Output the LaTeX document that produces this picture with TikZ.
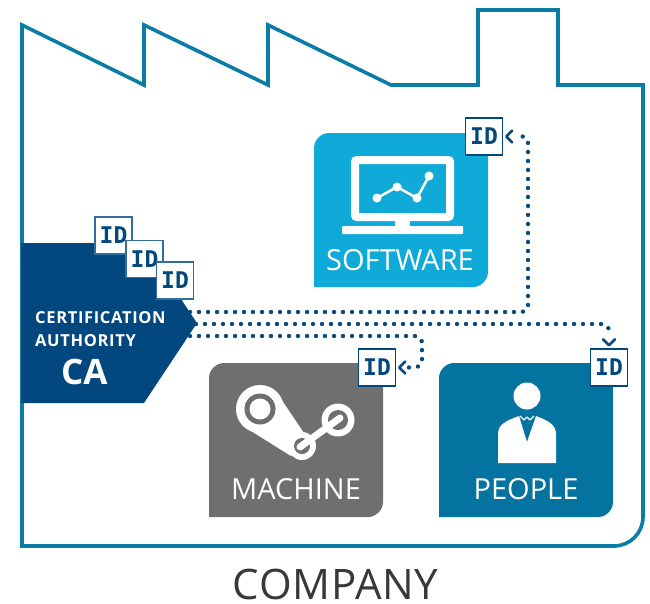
\documentclass[tikz,border=0pt]{standalone}
\usepackage{fontspec}
\setmainfont{Open Sans}
\newfontfamily\idfont{DejaVu Sans Mono}
\usetikzlibrary{arrows.meta}
\definecolor{frameblue}{HTML}{0B7CA6}
\definecolor{cablue}{HTML}{03477F}
\definecolor{softblue}{HTML}{0FAAD8}
\definecolor{peopleblue}{HTML}{04739F}
\definecolor{machgray}{HTML}{6F6F6F}
\definecolor{dotblue}{HTML}{0C4A7E}
\definecolor{idedge}{HTML}{2F6E9E}
\tikzset{
  x=1pt,y=-1pt,
  idbox/.style={draw=cablue,line width=1.6pt,fill=white,minimum width=37pt,minimum height=37pt,inner sep=0pt,text=cablue,font=\fontsize{23}{23}\idfont\bfseries},
  linkdots/.style={draw=dotblue,line width=4.4pt,line cap=round,dash pattern=on 0pt off 9pt},
  chevron/.style={draw=dotblue,line width=2.6pt,line cap=round,line join=round},
  paneltext/.style={text=white,font=\fontsize{29}{29}\selectfont,inner sep=0pt,anchor=base},
  catext/.style={text=white,font=\fontsize{16.5}{17}\selectfont\bfseries\addfontfeatures{LetterSpace=4},inner sep=0pt,anchor=base west},
}
\newcommand{\panelshape}[5]{% color, x0, y0, x1, y1
  \fill[#1] (#4,#3) -- (#4,#5-15) .. controls (#4,#5-7) and (#4-7,#5) .. (#4-15,#5) -- (#2,#5) -- (#2,#3+15) .. controls (#2,#3+7) and (#2+7,#3) .. (#2+15,#3) -- cycle;}
\begin{document}
\begin{tikzpicture}
\useasboundingbox (0,0) rectangle (650,603);
\fill[white] (0,0) rectangle (650,603);
% factory outline
\draw[frameblue,line width=3.6pt,line join=miter]
  (22,25) -- (144,85) -- (144,25) -- (268,85) -- (268,25) -- (391,85) -- (478,85)
  -- (478,10) -- (558,10) -- (558,85) -- (643,85) -- (643,517)
  .. controls (643,533) and (630,546) .. (614,546) -- (22,546) -- cycle;
% panels
\panelshape{softblue}{314}{133}{488}{287}
\panelshape{machgray}{209}{363}{383}{517}
\panelshape{peopleblue}{439}{363}{613}{517}
\node[paneltext] (softlabel) at (400,270) {SOFTWARE};
\node[paneltext] (machlabel) at (296,499) {MACHINE};
\node[paneltext] (peoplelabel) at (526,499) {PEOPLE};
% laptop
\draw[white,line width=8pt,rounded corners=2pt] (355,160) rectangle (450,217);
\fill[white,rounded corners=1pt] (342,226) rectangle (463,234);
\fill[white] (395,219) rectangle (410,226);
\draw[white,line width=2.5pt] (377,198) -- (397,187) -- (417,198) -- (429,176);
\foreach \p in {(377,198),(397,187),(417,198),(429,176)} \fill[white] \p circle[radius=4.5];
% steam icon
\fill[white] (277,393) -- (306,436) -- (291,456) -- (243,426) -- cycle;
\fill[white] (260,409) circle[radius=24];
\fill[machgray] (260,409) circle[radius=15.5];
\fill[white] (260,409) circle[radius=10.5];
\fill[white] (302,446) circle[radius=14];
\fill[machgray] (302,446) circle[radius=8];
\fill[white] (338,420) circle[radius=16.5];
\fill[machgray] (338,420) circle[radius=10];
\draw[white,line width=7pt,line cap=round] (300,447) -- (340,418);
% person
\fill[white] (527,396) circle[radius=13.5];
\fill[white] (498,463) -- (498,434) .. controls (498,425) and (505,421) .. (519,416) -- (527,442) -- (536,416) .. controls (549,421) and (556,425) .. (556,434) -- (556,463) -- cycle;
\draw[white,line width=1.3pt,line join=round] (520,416) -- (524,420) -- (527,417) -- (530,420) -- (534,416);
% CA
\fill[cablue] (21,243) -- (110,243) -- (140,260) -- (170,280) -- (183,302) -- (197,323) -- (144,403) -- (21,403) -- cycle;
\node[catext] (catextone) at (35,323) {CERTIFICATION};
\node[catext] (catexttwo) at (35,346) {AUTHORITY};
\node[catext,font=\fontsize{35}{35}\selectfont\bfseries] (cacode) at (61,384) {CA};
% connector ends
\coordinate (startone) at (190,312);
\coordinate (starttwo) at (196,324);
\coordinate (startthree) at (190,336);
% ID boxes
\node[idbox,draw=idedge] (idcaone) at (113.5,235.5) {ID};
\node[idbox,draw=idedge] (idcatwo) at (144.5,259) {ID};
\node[idbox,draw=idedge] (idcathree) at (175,280.5) {ID};
\node[idbox] (idsoft) at (484,136.5) {ID};
\node[idbox] (idmach) at (377,367.5) {ID};
\node[idbox] (idpeople) at (609,367.5) {ID};
% dotted links
\draw[linkdots,rounded corners=7pt] (startone) -- (528,312) -- (528,136) -- ([xshift=11pt]idsoft.east);
\draw[linkdots,rounded corners=7pt] (starttwo) -- (609,324) -- ([yshift=13pt]idpeople.north);
\draw[linkdots,rounded corners=7pt] (startthree) -- (422,336) -- (422,367) -- ([xshift=11pt]idmach.east);
\draw[chevron] ([xshift=9pt,yshift=-6pt]idsoft.east) -- ([xshift=3pt]idsoft.east) -- ([xshift=9pt,yshift=6pt]idsoft.east);
\draw[chevron] ([xshift=9pt,yshift=-6pt]idmach.east) -- ([xshift=3pt]idmach.east) -- ([xshift=9pt,yshift=6pt]idmach.east);
\draw[chevron] ([xshift=-6pt,yshift=9pt]idpeople.north) -- ([yshift=3pt]idpeople.north) -- ([xshift=6pt,yshift=9pt]idpeople.north);
% title
\node[inner sep=0pt,anchor=base,text=black!78,font=\fontsize{42}{42}\selectfont\addfontfeatures{LetterSpace=1.5}] (company) at (335.5,599) {COMPANY};
\end{tikzpicture}
\end{document}
